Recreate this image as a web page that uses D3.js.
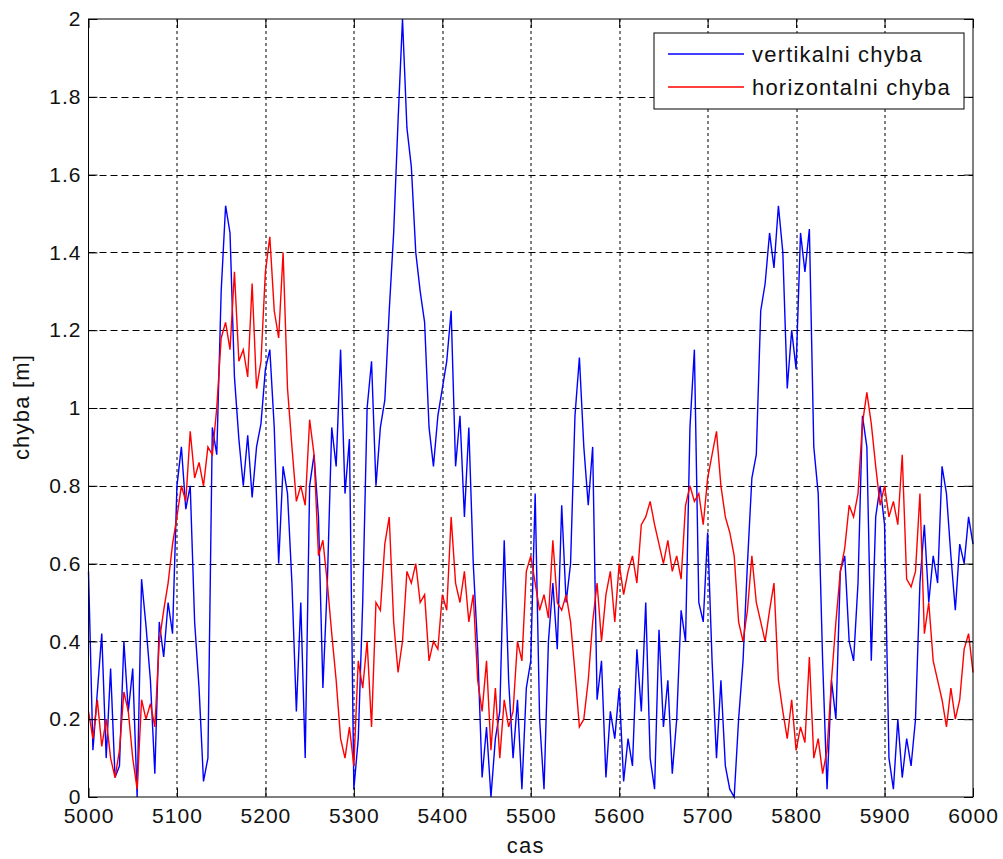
<!DOCTYPE html>
<html>
<head>
<meta charset="utf-8">
<script src="https://cdn.jsdelivr.net/npm/d3@7"></script>
<style>
  body { margin: 0; background: #fff; }
  text { font-family: "Liberation Sans", Arial, sans-serif; }
</style>
</head>
<body>
<div id="chart"></div>
<script>
// x runs 5000..6000 in steps of 5
var xStart = 5000, xStep = 5;

var vertikalni = [
  0.58, 0.12, 0.27, 0.42, 0.10, 0.33, 0.05, 0.08, 0.40, 0.22, 0.33, 0.00, 0.56, 0.44, 0.30, 0.06, 0.45, 0.36, 0.50, 0.42,
  0.80, 0.90, 0.74, 0.80, 0.45, 0.28, 0.04, 0.10, 0.95, 0.88, 1.30, 1.52, 1.45, 1.08, 0.92, 0.80, 0.93, 0.77, 0.90, 0.96,
  1.10, 1.15, 0.95, 0.60, 0.85, 0.78, 0.55, 0.22, 0.50, 0.10, 0.80, 0.88, 0.72, 0.28, 0.55, 0.95, 0.85, 1.15, 0.78, 0.92,
  0.02, 0.15, 0.50, 1.00, 1.12, 0.80, 0.95, 1.02, 1.25, 1.45, 1.74, 2.00, 1.72, 1.62, 1.40, 1.30, 1.22, 0.95, 0.85, 0.98,
  1.05, 1.12, 1.25, 0.85, 0.98, 0.72, 0.95, 0.60, 0.38, 0.05, 0.18, 0.00, 0.15, 0.22, 0.66, 0.30, 0.10, 0.25, 0.02, 0.28,
  0.35, 0.78, 0.20, 0.02, 0.40, 0.55, 0.38, 0.75, 0.50, 0.60, 0.98, 1.13, 0.90, 0.75, 0.90, 0.25, 0.35, 0.05, 0.22, 0.15,
  0.28, 0.04, 0.15, 0.08, 0.38, 0.22, 0.50, 0.10, 0.02, 0.43, 0.18, 0.30, 0.06, 0.20, 0.48, 0.40, 0.95, 1.15, 0.50, 0.45,
  0.68, 0.35, 0.10, 0.30, 0.08, 0.02, 0.00, 0.20, 0.35, 0.60, 0.82, 0.88, 1.25, 1.32, 1.45, 1.36, 1.52, 1.40, 1.05, 1.20,
  1.10, 1.45, 1.35, 1.46, 0.90, 0.78, 0.35, 0.02, 0.30, 0.20, 0.58, 0.62, 0.40, 0.35, 0.55, 0.98, 0.90, 0.35, 0.72, 0.80,
  0.70, 0.10, 0.02, 0.20, 0.05, 0.15, 0.08, 0.20, 0.55, 0.70, 0.50, 0.62, 0.55, 0.85, 0.78, 0.62, 0.48, 0.65, 0.60, 0.72,
  0.65
];

var horizontalni = [
  0.22, 0.15, 0.25, 0.13, 0.20, 0.10, 0.05, 0.12, 0.27, 0.22, 0.10, 0.02, 0.25, 0.20, 0.24, 0.18, 0.40, 0.48, 0.55, 0.65,
  0.72, 0.80, 0.76, 0.94, 0.82, 0.86, 0.80, 0.90, 0.88, 1.00, 1.18, 1.22, 1.15, 1.35, 1.12, 1.15, 1.08, 1.32, 1.05, 1.12,
  1.35, 1.44, 1.25, 1.18, 1.40, 1.05, 0.90, 0.76, 0.80, 0.75, 0.97, 0.88, 0.62, 0.66, 0.55, 0.42, 0.30, 0.15, 0.10, 0.18,
  0.08, 0.35, 0.28, 0.40, 0.18, 0.50, 0.48, 0.65, 0.72, 0.45, 0.32, 0.40, 0.58, 0.55, 0.60, 0.50, 0.52, 0.35, 0.40, 0.38,
  0.52, 0.48, 0.72, 0.55, 0.50, 0.58, 0.45, 0.52, 0.30, 0.22, 0.35, 0.12, 0.28, 0.10, 0.25, 0.18, 0.22, 0.40, 0.35, 0.58,
  0.62, 0.55, 0.48, 0.52, 0.46, 0.66, 0.50, 0.48, 0.52, 0.45, 0.32, 0.18, 0.20, 0.30, 0.45, 0.55, 0.40, 0.52, 0.58, 0.45,
  0.60, 0.52, 0.58, 0.62, 0.55, 0.70, 0.72, 0.76, 0.70, 0.65, 0.60, 0.66, 0.58, 0.62, 0.56, 0.75, 0.80, 0.76, 0.78, 0.70,
  0.82, 0.88, 0.94, 0.80, 0.72, 0.68, 0.62, 0.45, 0.40, 0.48, 0.62, 0.50, 0.45, 0.40, 0.48, 0.55, 0.30, 0.22, 0.15, 0.25,
  0.12, 0.18, 0.14, 0.36, 0.10, 0.15, 0.06, 0.12, 0.30, 0.45, 0.58, 0.64, 0.75, 0.72, 0.78, 0.96, 1.04, 0.96, 0.85, 0.75,
  0.80, 0.72, 0.76, 0.70, 0.88, 0.56, 0.54, 0.58, 0.78, 0.42, 0.50, 0.35, 0.30, 0.25, 0.18, 0.28, 0.20, 0.25, 0.38, 0.42,
  0.32
];

var xTicks = [5000, 5100, 5200, 5300, 5400, 5500, 5600, 5700, 5800, 5900, 6000];
var yTicks = [0, 0.2, 0.4, 0.6, 0.8, 1, 1.2, 1.4, 1.6, 1.8, 2];
var seriesNames = ["vertikalni chyba", "horizontalni chyba"];
var seriesColors = ["#0000ff", "#ff0000"];

var margin = {top: 19, right: 30, bottom: 62, left: 88.5},
    width = 1003 - margin.left - margin.right,
    height = 859 - margin.top - margin.bottom;

var svg = d3.select("#chart")
  .append("svg")
    .attr("width", 1003)
    .attr("height", 859)
  .append("g")
    .attr("transform", "translate(" + margin.left + "," + margin.top + ")");

var x = d3.scaleLinear().domain([5000, 6000]).range([0, width]);
var y = d3.scaleLinear().domain([0, 2]).range([height, 0]);

// grid
svg.append("g").selectAll("line")
  .data(yTicks.slice(1, -1))
  .enter().append("line")
    .attr("x1", 0).attr("x2", width)
    .attr("y1", function(d) { return Math.round(y(d)) + 0.5; })
    .attr("y2", function(d) { return Math.round(y(d)) + 0.5; })
    .attr("stroke", "#000")
    .attr("stroke-dasharray", "7,4");

svg.append("g").selectAll("line")
  .data(xTicks.slice(1, -1))
  .enter().append("line")
    .attr("y1", 0).attr("y2", height)
    .attr("x1", function(d) { return Math.round(x(d)) + 0.5; })
    .attr("x2", function(d) { return Math.round(x(d)) + 0.5; })
    .attr("stroke", "#000")
    .attr("stroke-dasharray", "3,3");

// lines
var series = [vertikalni, horizontalni];
var line = d3.line()
  .x(function(d, i) { return x(xStart + i * xStep); })
  .y(function(d) { return y(d); });

series.forEach(function(s, k) {
  svg.append("path")
    .datum(s)
    .attr("fill", "none")
    .attr("stroke", seriesColors[k])
    .attr("stroke-width", 1.4)
    .attr("d", line);
});

// axes, ticks inward on all sides
var tickLen = 9;
svg.append("g")
  .attr("transform", "translate(0," + height + ")")
  .call(d3.axisBottom(x).tickValues(xTicks).tickSize(-tickLen).tickPadding(11).tickFormat(d3.format("d")))
  .call(function(g) { g.select(".domain").remove(); });
svg.append("g")
  .call(d3.axisTop(x).tickValues(xTicks).tickSize(-tickLen).tickFormat(""))
  .call(function(g) { g.select(".domain").remove(); });
svg.append("g")
  .call(d3.axisLeft(y).tickValues(yTicks).tickSize(-tickLen).tickPadding(7).tickFormat(d3.format("")))
  .call(function(g) { g.select(".domain").remove(); });
svg.append("g")
  .attr("transform", "translate(" + width + ",0)")
  .call(d3.axisRight(y).tickValues(yTicks).tickSize(-tickLen).tickFormat(""))
  .call(function(g) { g.select(".domain").remove(); });

svg.selectAll(".tick text")
  .attr("font-size", 21)
  .attr("letter-spacing", 1)
  .attr("font-family", "Liberation Sans, Arial, sans-serif")
  .attr("fill", "#111");

// frame
svg.append("rect")
  .attr("x", 0).attr("y", 0)
  .attr("width", width).attr("height", height)
  .attr("fill", "none")
  .attr("stroke", "#000")
  .attr("stroke-width", 1);

// axis labels
svg.append("text")
  .attr("x", width / 2 - 5)
  .attr("y", height + 56)
  .attr("text-anchor", "middle")
  .attr("font-size", 22)
  .attr("letter-spacing", 1.2)
  .attr("fill", "#111")
  .text("cas");

svg.append("text")
  .attr("transform", "translate(" + (-60) + "," + (height / 2 - 1) + ") rotate(-90)")
  .attr("text-anchor", "middle")
  .attr("font-size", 22)
  .attr("letter-spacing", 1.2)
  .attr("fill", "#111")
  .text("chyba [m]");

// legend
var legend = svg.append("g")
  .attr("transform", "translate(" + (654 - margin.left) + "," + (33 - margin.top) + ")");
legend.append("rect")
  .attr("width", 310).attr("height", 76)
  .attr("fill", "#fff")
  .attr("stroke", "#000");
seriesNames.forEach(function(name, k) {
  var ly = 21 + k * 33;
  legend.append("line")
    .attr("x1", 14).attr("x2", 90)
    .attr("y1", ly).attr("y2", ly)
    .attr("stroke", seriesColors[k])
    .attr("stroke-width", 1.3);
  legend.append("text")
    .attr("x", 98).attr("y", ly + 8)
    .attr("font-size", 22)
    .attr("letter-spacing", 1.2)
    .attr("fill", "#111")
    .text(name);
});
</script>
</body>
</html>
